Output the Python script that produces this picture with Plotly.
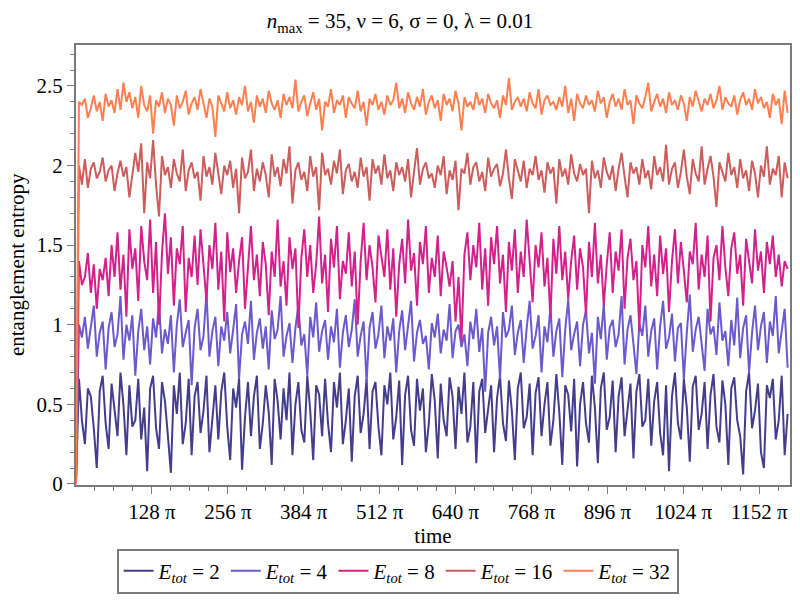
import math
import plotly.graph_objects as go

PI = math.pi
dt = 5 * PI          # sample spacing in time
n_steps = 240        # number of steps after t = 0

energies = [2, 4, 8, 16, 32]
colors = ["#463C8C", "#6A5ACD", "#D3218C", "#CD5C5C", "#FF7F50"]

s_E2 = [0.0,
 0.66, 0.40, 0.25, 0.60, 0.55, 0.35, 0.10, 0.58, 0.68, 0.38,
 0.22, 0.63, 0.45, 0.30, 0.70, 0.50, 0.18, 0.62, 0.36, 0.40,
 0.66, 0.28, 0.48, 0.08, 0.60, 0.68, 0.35, 0.22, 0.64, 0.52,
 0.30, 0.07, 0.62, 0.44, 0.70, 0.25, 0.38, 0.66, 0.18, 0.55,
 0.64, 0.32, 0.46, 0.68, 0.20, 0.40, 0.62, 0.28, 0.58, 0.70,
 0.36, 0.15, 0.60, 0.48, 0.66, 0.09, 0.42, 0.64, 0.30, 0.55,
 0.68, 0.22, 0.38, 0.62, 0.45, 0.12, 0.66, 0.52, 0.28, 0.60,
 0.40, 0.70, 0.18, 0.50, 0.64, 0.34, 0.26, 0.68, 0.46, 0.15,
 0.62, 0.56, 0.30, 0.66, 0.38, 0.20, 0.64, 0.48, 0.70, 0.25,
 0.40, 0.60, 0.14, 0.55, 0.68, 0.32, 0.44, 0.66, 0.22, 0.58,
 0.64, 0.36, 0.18, 0.62, 0.50, 0.70, 0.28, 0.42, 0.65, 0.12,
 0.56, 0.68, 0.34, 0.24, 0.66, 0.46, 0.60, 0.20, 0.38, 0.69,
 0.52, 0.16, 0.63, 0.40, 0.30, 0.67, 0.55, 0.22, 0.61, 0.44,
 0.70, 0.26, 0.36, 0.64, 0.13, 0.58, 0.66, 0.32, 0.48, 0.62,
 0.20, 0.54, 0.68, 0.38, 0.27, 0.65, 0.46, 0.15, 0.60, 0.70,
 0.35, 0.42, 0.63, 0.18, 0.57, 0.67, 0.30, 0.50, 0.64, 0.24,
 0.40, 0.69, 0.45, 0.12, 0.62, 0.56, 0.33, 0.66, 0.11, 0.50,
 0.64, 0.38, 0.26, 0.68, 0.48, 0.13, 0.60, 0.70, 0.34, 0.42,
 0.65, 0.20, 0.55, 0.67, 0.30, 0.46, 0.63, 0.16, 0.58, 0.69,
 0.36, 0.40, 0.66, 0.24, 0.52, 0.64, 0.32, 0.18, 0.62, 0.08,
 0.55, 0.70, 0.38, 0.28, 0.66, 0.48, 0.14, 0.61, 0.68, 0.34,
 0.44, 0.64, 0.22, 0.56, 0.69, 0.36, 0.26, 0.65, 0.50, 0.12,
 0.60, 0.67, 0.40, 0.30, 0.06, 0.58, 0.70, 0.35, 0.46, 0.63,
 0.20, 0.10, 0.62, 0.54, 0.66, 0.28, 0.40, 0.68, 0.18, 0.44]

s_E4 = [0.0,
 1.00, 0.92, 1.05, 0.85, 0.98, 1.12, 0.80, 0.95, 1.02, 0.72,
 0.98, 1.08, 0.86, 0.94, 1.18, 0.78, 1.00, 0.90, 1.06, 0.68,
 0.96, 1.10, 0.84, 0.99, 0.75, 1.04, 0.92, 1.14, 0.82, 0.97,
 0.88, 1.06, 0.70, 1.00, 1.16, 0.86, 0.95, 1.03, 0.62, 0.98,
 1.10, 0.84, 0.93, 1.20, 0.80, 0.96, 1.05, 0.74, 0.99, 0.90,
 1.08, 0.82, 0.97, 1.13, 0.66, 0.94, 1.02, 0.88, 1.15, 0.78,
 0.95, 1.04, 0.85, 0.99, 0.72, 1.09, 0.91, 0.97, 1.18, 0.80,
 0.93, 1.01, 0.76, 0.98, 1.12, 0.87, 0.94, 0.68, 1.05, 0.92,
 1.14, 0.83, 0.96, 1.03, 0.78, 0.99, 0.89, 1.10, 0.73, 0.95,
 1.06, 0.86, 0.97, 1.16, 0.80, 0.93, 1.02, 0.64, 0.98, 1.08,
 0.85, 0.94, 1.12, 0.79, 0.99, 0.90, 1.04, 0.70, 0.96, 1.09,
 0.84, 0.98, 1.15, 0.77, 0.95, 1.03, 0.88, 0.93, 0.72, 1.01,
 0.92, 1.07, 0.82, 0.97, 0.90, 1.13, 0.79, 0.96, 1.00, 0.86,
 0.94, 0.74, 1.02, 0.91, 1.10, 0.83, 0.98, 0.58, 0.95, 1.05,
 0.87, 0.99, 0.66, 1.08, 0.92, 0.97, 1.12, 0.81, 0.95, 1.03,
 0.76, 0.98, 1.15, 0.85, 0.93, 1.06, 0.70, 0.99, 0.89, 1.11,
 0.80, 0.96, 1.04, 0.67, 0.97, 1.16, 0.84, 0.94, 1.02, 0.74,
 1.00, 1.09, 0.82, 0.95, 0.63, 1.05, 0.91, 1.13, 0.78, 0.98,
 1.03, 0.86, 0.94, 1.18, 0.75, 0.97, 1.06, 0.88, 0.69, 1.01,
 0.93, 1.12, 0.80, 0.96, 1.04, 0.72, 0.99, 1.15, 0.85, 0.92,
 1.07, 0.77, 0.98, 1.01, 0.66, 0.95, 1.19, 0.83, 0.97, 1.05,
 0.88, 0.71, 1.10, 0.94, 0.99, 0.81, 1.14, 0.90, 0.96, 0.74,
 1.03, 0.87, 1.17, 0.79, 0.98, 1.06, 0.70, 0.95, 1.12, 0.84,
 0.99, 1.08, 0.76, 1.02, 0.93, 1.18, 0.82, 0.97, 1.10, 0.73]

s_E8 = [0.0,
 1.40, 1.25, 1.30, 1.45, 1.20, 1.38, 1.10, 1.35, 1.28, 1.42,
 1.18, 1.50, 1.30, 1.58, 1.22, 1.44, 1.05, 1.60, 1.35, 1.48,
 1.15, 1.62, 1.40, 1.28, 1.66, 1.20, 1.52, 1.00, 1.45, 1.70,
 1.32, 1.55, 1.12, 1.48, 1.38, 1.62, 1.08, 1.42, 1.30, 1.56,
 1.25, 1.60, 1.40, 1.15, 1.50, 1.35, 1.64, 1.22, 1.46, 1.02,
 1.58, 1.33, 1.48, 1.20, 1.40, 1.55, 1.10, 1.36, 1.62, 1.28,
 1.44, 1.18, 1.52, 1.38, 1.06, 1.46, 1.30, 1.66, 1.24, 1.40,
 1.12, 1.55, 1.35, 1.48, 0.98, 1.42, 1.60, 1.30, 1.50, 1.20,
 1.38, 1.68, 1.26, 1.44, 1.08, 1.54, 1.36, 1.62, 1.16, 1.40,
 1.32, 1.58, 1.24, 1.46, 1.00, 1.40, 1.64, 1.28, 1.50, 1.36,
 1.14, 1.56, 1.42, 1.30, 1.60, 1.22, 1.48, 1.05, 1.38, 1.54,
 1.26, 1.66, 1.34, 1.45, 1.12, 1.52, 1.38, 1.62, 1.20, 1.42,
 1.30, 1.56, 1.18, 1.46, 1.36, 1.24, 1.40, 1.02, 1.30, 0.90,
 1.44, 1.58, 1.28, 1.50, 1.36, 1.64, 1.22, 1.48, 1.12, 1.55,
 1.38, 1.62, 1.26, 1.44, 1.08, 1.52, 1.34, 1.60, 1.20, 1.46,
 1.30, 1.66, 1.40, 1.14, 1.50, 1.36, 1.58, 1.24, 1.42, 1.04,
 1.54, 1.32, 1.62, 1.28, 1.46, 1.16, 1.40, 1.56, 1.22, 1.48,
 1.36, 1.06, 1.52, 1.30, 1.64, 1.26, 1.44, 1.12, 1.38, 1.58,
 1.20, 1.46, 1.34, 1.60, 1.10, 1.42, 1.54, 1.28, 1.40, 0.96,
 1.50, 1.36, 1.62, 1.24, 1.44, 1.18, 1.56, 1.32, 1.48, 1.08,
 1.40, 1.60, 1.26, 1.52, 1.34, 1.14, 1.46, 1.38, 1.64, 1.22,
 1.44, 1.30, 1.56, 1.02, 1.42, 1.50, 1.28, 1.62, 1.36, 1.18,
 1.48, 1.58, 1.32, 1.44, 1.12, 1.54, 1.40, 1.26, 1.60, 1.34,
 1.46, 1.20, 1.52, 1.38, 1.56, 1.30, 1.44, 1.24, 1.40, 1.35]

s_E16 = [0.0,
 2.00, 1.88, 2.04, 1.86, 1.98, 2.02, 1.92, 1.96, 2.05, 1.90,
 1.97, 2.00, 1.84, 1.95, 2.03, 1.93, 1.99, 1.80, 1.94, 2.08,
 1.96, 2.14, 1.70, 2.02, 1.92, 2.16, 1.88, 1.68, 2.06, 1.94,
 1.99, 1.86, 2.04, 1.95, 1.90, 2.10, 1.84, 1.97, 2.02, 1.92,
 1.96, 1.78, 2.06, 1.93, 1.99, 1.88, 2.08, 1.95, 1.82, 2.00,
 1.94, 2.03, 1.86, 1.98, 1.70, 2.05, 1.92, 1.96, 2.10, 1.84,
 1.98, 1.90, 2.02, 1.94, 1.80, 2.07, 1.93, 1.99, 1.87, 2.04,
 1.95, 2.12, 1.76, 1.97, 2.02, 1.91, 1.96, 1.84, 2.06, 1.93,
 1.99, 1.72, 2.08, 1.94, 1.98, 1.88, 2.03, 1.95, 2.10, 1.82,
 1.97, 2.01, 1.90, 1.96, 1.86, 2.05, 1.93, 1.99, 1.78, 2.04,
 1.95, 2.00, 1.88, 2.07, 1.92, 1.97, 1.84, 2.02, 1.94, 1.99,
 1.90, 2.04, 1.80, 1.96, 2.11, 1.88, 1.98, 2.02, 1.92, 1.95,
 1.86, 2.00, 1.94, 2.06, 1.82, 1.97, 1.91, 2.03, 1.72, 1.98,
 1.95, 2.08, 1.88, 1.99, 2.02, 1.90, 1.96, 1.84, 2.05, 1.93,
 1.98, 2.01, 1.87, 1.95, 2.10, 1.92, 1.79, 2.04, 1.96, 1.90,
 2.03, 1.86, 1.98, 1.94, 2.06, 1.91, 1.97, 1.83, 2.02, 1.95,
 1.99, 1.76, 2.04, 1.93, 1.98, 1.88, 2.07, 1.95, 1.90, 2.01,
 1.94, 1.98, 1.70, 2.03, 1.92, 1.97, 1.86, 2.05, 1.96, 1.91,
 2.00, 1.84, 1.98, 2.08, 1.93, 1.80, 2.02, 1.95, 1.99, 1.88,
 2.04, 1.92, 1.97, 1.85, 2.06, 1.94, 1.99, 1.90, 2.13, 1.88,
 1.98, 2.02, 1.86, 1.96, 2.10, 1.93, 1.82, 2.04, 1.95, 1.90,
 2.12, 1.88, 1.98, 2.06, 1.93, 1.74, 2.02, 1.96, 1.90, 2.08,
 1.94, 1.99, 1.86, 2.04, 1.92, 1.97, 1.84, 2.03, 1.95, 1.80,
 2.00, 1.93, 2.12, 1.88, 1.98, 1.94, 2.06, 1.80, 2.02, 1.92]

s_E32 = [0.0,
 2.40, 2.38, 2.42, 2.30, 2.36, 2.44, 2.34, 2.40, 2.28, 2.45,
 2.37, 2.41, 2.33, 2.48, 2.35, 2.52, 2.40, 2.46, 2.36, 2.43,
 2.30, 2.50, 2.38, 2.34, 2.44, 2.20, 2.41, 2.37, 2.46, 2.33,
 2.42, 2.38, 2.25, 2.44, 2.36, 2.40, 2.47, 2.32, 2.39, 2.43,
 2.35, 2.48, 2.40, 2.30, 2.42, 2.37, 2.18, 2.44, 2.39, 2.34,
 2.46, 2.36, 2.41, 2.32, 2.43, 2.38, 2.50, 2.34, 2.40, 2.27,
 2.44, 2.37, 2.42, 2.33, 2.47, 2.39, 2.35, 2.41, 2.30, 2.45,
 2.38, 2.43, 2.36, 2.54, 2.34, 2.40, 2.44, 2.31, 2.39, 2.46,
 2.35, 2.42, 2.22, 2.40, 2.37, 2.48, 2.33, 2.41, 2.38, 2.44,
 2.30, 2.43, 2.39, 2.36, 2.47, 2.34, 2.40, 2.25, 2.42, 2.38,
 2.45, 2.35, 2.40, 2.32, 2.44, 2.38, 2.41, 2.52, 2.36, 2.42,
 2.33, 2.46, 2.39, 2.35, 2.43, 2.37, 2.48, 2.32, 2.40, 2.44,
 2.36, 2.41, 2.28, 2.45, 2.38, 2.42, 2.34, 2.47, 2.39, 2.22,
 2.43, 2.37, 2.40, 2.35, 2.46, 2.38, 2.42, 2.33, 2.45, 2.39,
 2.36, 2.41, 2.30, 2.44, 2.38, 2.55, 2.35, 2.40, 2.43, 2.37,
 2.42, 2.34, 2.46, 2.39, 2.36, 2.48, 2.32, 2.41, 2.44, 2.38,
 2.40, 2.35, 2.43, 2.37, 2.50, 2.33, 2.42, 2.28, 2.45, 2.39,
 2.36, 2.44, 2.38, 2.41, 2.34, 2.47, 2.39, 2.43, 2.30, 2.40,
 2.45, 2.37, 2.42, 2.35, 2.48, 2.38, 2.41, 2.26, 2.44, 2.39,
 2.36, 2.43, 2.52, 2.34, 2.40, 2.45, 2.37, 2.42, 2.33, 2.46,
 2.38, 2.41, 2.35, 2.44, 2.39, 2.28, 2.43, 2.37, 2.47, 2.40,
 2.34, 2.42, 2.38, 2.45, 2.36, 2.41, 2.50, 2.35, 2.43, 2.39,
 2.37, 2.44, 2.32, 2.41, 2.46, 2.38, 2.42, 2.35, 2.48, 2.39,
 2.43, 2.36, 2.40, 2.30, 2.45, 2.38, 2.42, 2.26, 2.47, 2.33]

x_tick_multiples = [128, 256, 384, 512, 640, 768, 896, 1024, 1152]
x_tick_labels = ["128 π", "256 π", "384 π", "512 π", "640 π", "768 π", "896 π", "1024 π", "1152 π"]
y_tick_vals = [0, 0.5, 1, 1.5, 2, 2.5]
y_tick_labels = ["0", "0.5", "1", "1.5", "2", "2.5"]

series = [s_E2, s_E4, s_E8, s_E16, s_E32]
times = [i * dt for i in range(n_steps + 1)]

FONT = "Liberation Serif, Times New Roman, serif"
AX = "#7a7a7a"
FS = 21

fig = go.Figure()
for e, col, ys in zip(energies, colors, series):
    fig.add_trace(go.Scatter(
        x=times, y=ys, mode="lines",
        line=dict(color=col, width=2),
        name=f"<i>E</i><sub><i>tot</i></sub> = {e}",
    ))

fig.update_layout(
    width=800, height=600,
    paper_bgcolor="white", plot_bgcolor="white",
    margin=dict(l=76, r=8, t=45, b=114),
    font=dict(family=FONT, size=FS, color="black"),
    title=dict(
        text="<i>n</i><sub>max</sub> = 35, ν = 6, σ = 0, λ = 0.01",
        x=0.5, xref="container", xanchor="center",
        y=1 - 21 / 600, yref="container", yanchor="middle",
        font=dict(family=FONT, size=FS),
    ),
    showlegend=True,
    legend=dict(
        orientation="h",
        x=0.497, xref="container", xanchor="center",
        y=29 / 600, yref="container", yanchor="middle",
        bgcolor="white", bordercolor="#7a7a7a", borderwidth=2,
        font=dict(family=FONT, size=21),
        itemwidth=30, tracegroupgap=0,
    ),
)

fig.update_xaxes(
    range=[0, 1204 * PI],
    tickmode="array",
    tickvals=[m * PI for m in x_tick_multiples],
    ticktext=x_tick_labels,
    ticks="outside", ticklen=7, tickwidth=1.2, tickcolor=AX,
    minor=dict(tickmode="array",
               tickvals=[k * 32 * PI for k in range(1, 38)],
               ticks="outside", ticklen=4, tickwidth=1.2, tickcolor=AX),
    showline=True, linecolor=AX, linewidth=2, mirror=True,
    showgrid=False, zeroline=False,
    title=dict(text="time", font=dict(family=FONT, size=FS), standoff=2),
    tickfont=dict(family=FONT, size=FS),
)

fig.update_yaxes(
    range=[-0.004, 2.757],
    tickmode="array",
    tickvals=y_tick_vals,
    ticktext=y_tick_labels,
    ticks="outside", ticklen=7, tickwidth=1.2, tickcolor=AX,
    minor=dict(tickmode="array",
               tickvals=[k / 10 for k in range(0, 28)],
               ticks="outside", ticklen=4, tickwidth=1.2, tickcolor=AX),
    showline=True, linecolor=AX, linewidth=2, mirror=True,
    showgrid=False, zeroline=False,
    title=dict(text="entanglement entropy", font=dict(family=FONT, size=FS), standoff=6),
    tickfont=dict(family=FONT, size=FS),
)

fig.write_html(
    "out.html",
    config={"displayModeBar": False},
    post_script="document.body.style.margin='0px';document.body.style.overflow='hidden';",
)
